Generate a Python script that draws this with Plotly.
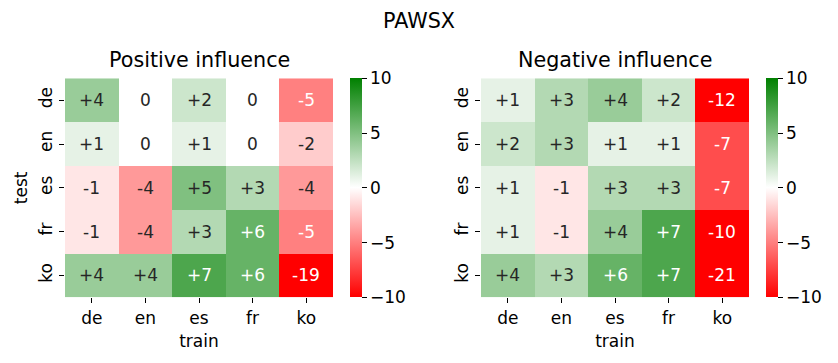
import plotly.graph_objects as go

# data
train_langs = ['de', 'en', 'es', 'fr', 'ko']
test_langs = ['de', 'en', 'es', 'fr', 'ko']

positive_vals = [
    [4, 0, 2, 0, -5],
    [1, 0, 1, 0, -2],
    [-1, -4, 5, 3, -4],
    [-1, -4, 3, 6, -5],
    [4, 4, 7, 6, -19],
]
negative_vals = [
    [1, 3, 4, 2, -12],
    [2, 3, 1, 1, -7],
    [1, -1, 3, 3, -7],
    [1, -1, 4, 7, -10],
    [4, 3, 6, 7, -21],
]
cbar_ticks = [-10, -5, 0, 5, 10]
cbar_labels = ['\u221210', '\u22125', '0', '5', '10']

FONT = 'DejaVu Sans'
SMALL = 17
BIG = 20.7
colorscale = [[0, 'rgb(255,0,0)'], [0.5, 'rgb(255,255,255)'], [1, 'rgb(0,128,0)']]


def cell_rgb(v):
    t = max(-10, min(10, v)) / 10
    if t < 0:
        return (1, 1 + t, 1 + t)
    return (1 - t, 1 - t * (1 - 128 / 255), 1 - t)


def text_color(v):
    # same rule seaborn uses for annotation colour
    def lin(c):
        return c / 12.92 if c <= 0.03928 else ((c + 0.055) / 1.055) ** 2.4
    r, g, b = cell_rgb(v)
    lum = 0.2126 * lin(r) + 0.7152 * lin(g) + 0.0722 * lin(b)
    return 'white' if lum < 0.408 else '#262626'


def fmt(v):
    return f'+{v}' if v > 0 else str(v)


# page has an 8px body margin, so figure coords = page coords - 8
OFF = 8
W, H = 838 - 2 * OFF, 363 - 2 * OFF


def px(x):
    return (x - OFF) / W


def py(y):
    return 1 - (y - OFF) / H


y_dom = [py(297.3), py(78.3)]
x_doms = [[px(65), px(333)], [px(481), px(749)]]
cbar_x = [px(350), px(766)]
titles = ['Positive influence', 'Negative influence']

fig = go.Figure()
annotations = []

for i, vals in enumerate([positive_vals, negative_vals]):
    n = i + 1
    xa = 'x' if n == 1 else f'x{n}'
    ya = 'y' if n == 1 else f'y{n}'
    ca = 'coloraxis' if n == 1 else f'coloraxis{n}'
    fig.add_trace(go.Heatmap(
        z=vals, x=train_langs, y=test_langs,
        xaxis=xa, yaxis=ya, coloraxis=ca,
        hoverinfo='skip',
    ))
    for r, row in enumerate(vals):
        for c, v in enumerate(row):
            annotations.append(dict(
                x=train_langs[c], y=test_langs[r], xref=xa, yref=ya,
                text=fmt(v), showarrow=False,
                font=dict(family=FONT, size=SMALL, color=text_color(v)),
            ))
    annotations.append(dict(
        x=sum(x_doms[i]) / 2, y=py(60), xref='paper', yref='paper',
        text=titles[i], showarrow=False, xanchor='center', yanchor='middle',
        font=dict(family=FONT, size=BIG, color='black'),
    ))

    axis_common = dict(
        showgrid=False, zeroline=False, showline=False,
        ticks='outside', ticklen=5, tickwidth=1, tickcolor='black',
        tickfont=dict(family=FONT, size=SMALL, color='black'),
    )
    fig.update_layout({
        ('xaxis' if n == 1 else f'xaxis{n}'): dict(
            domain=x_doms[i], anchor=ya,
            title=dict(text='train', font=dict(family=FONT, size=SMALL, color='black'), standoff=8),
            **axis_common),
        ('yaxis' if n == 1 else f'yaxis{n}'): dict(
            domain=y_dom, anchor=xa, autorange='reversed', tickangle=-90,
            title=dict(text='test' if n == 1 else '', font=dict(family=FONT, size=SMALL, color='black'), standoff=4),
            **axis_common),
        ca: dict(
            cmin=-10, cmax=10, colorscale=colorscale,
            colorbar=dict(
                x=cbar_x[i], xanchor='left', xpad=0, y=sum(y_dom) / 2, yanchor='middle', ypad=0,
                len=y_dom[1] - y_dom[0], lenmode='fraction', thickness=11.5,
                outlinewidth=0, ticks='outside', ticklen=5, tickcolor='black',
                tickvals=cbar_ticks, ticktext=cbar_labels,
                tickfont=dict(family=FONT, size=SMALL, color='black'),
            ),
        ),
    })

fig.update_layout(
    width=W, height=H,
    margin=dict(l=0, r=0, t=0, b=0),
    paper_bgcolor='white', plot_bgcolor='white',
    title=dict(text='PAWSX', x=0.5, xanchor='center', y=py(21), yanchor='middle',
               font=dict(family=FONT, size=BIG, color='black')),
    annotations=annotations,
    showlegend=False,
)

fig.write_html('out.html')
